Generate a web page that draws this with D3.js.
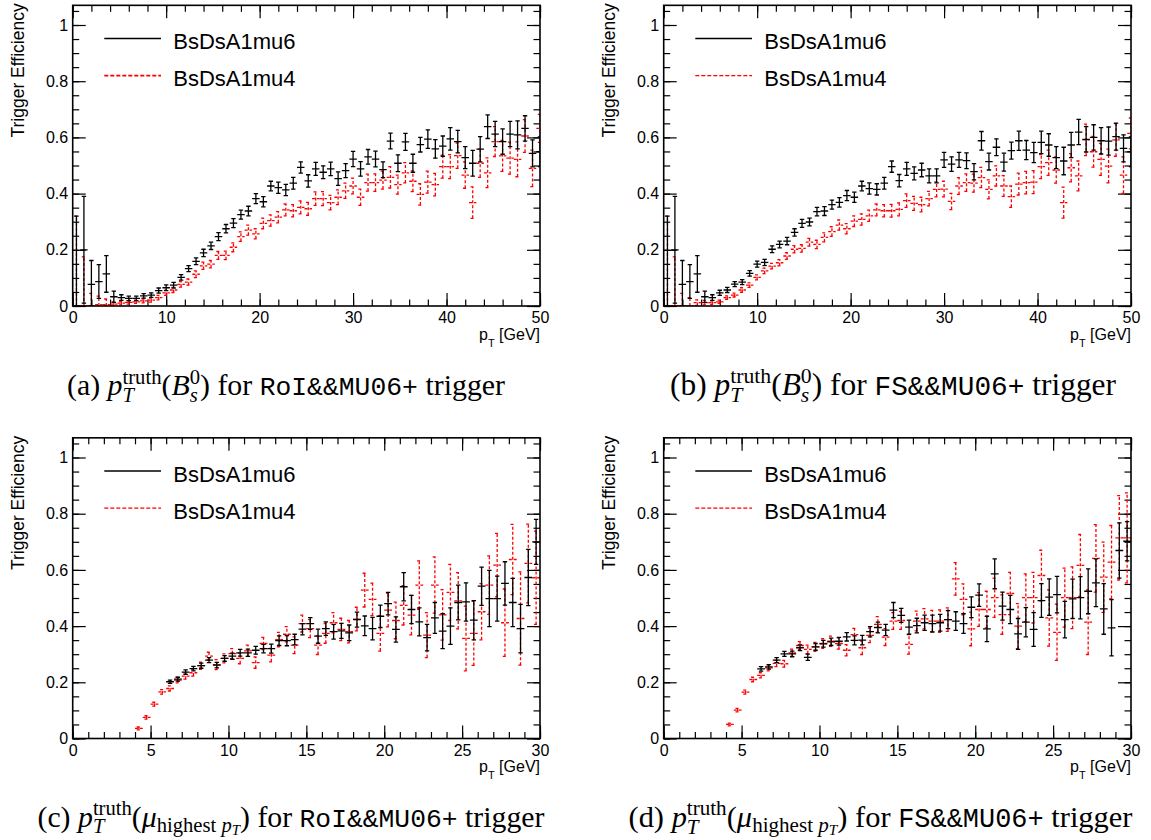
<!DOCTYPE html>
<html lang="en">
<head>
<meta charset="UTF-8">
<title>Trigger Efficiency</title>
<script src="https://cdn.jsdelivr.net/npm/d3@7"></script>
<style>
    body { margin: 0; background: #ffffff; }
    svg { display: block; }
    .tick line { stroke: #000; stroke-width: 1.2px; }
    .tick text { font-family: 'Liberation Sans', Arial, Helvetica, sans-serif; font-size: 16px; fill: #000; }
</style>
</head>
<body>
<script>
    // histogram binning: B_s pT (0-50 GeV, 0.8 GeV bins), muon pT (0-30 GeV, 0.5 GeV bins)
    var binWidthBs = 0.8;
    var binWidthMu = 0.5;
    var yTicks = [0, 0.2, 0.4, 0.6, 0.8, 1];
    var xTicksBs = [0, 10, 20, 30, 40, 50];
    var xTicksMu = [0, 5, 10, 15, 20, 25, 30];
    var seriesNames = ["BsDsA1mu6", "BsDsA1mu4"];

    // (a) pT(Bs) RoI&&MU06+
    var aMu6 = [0,0.2,0.077,0.087,0.114,0.033,0.03,0.027,0.027,0.036,
        0.039,0.055,0.065,0.074,0.102,0.133,0.159,0.189,0.214,0.247,
        0.275,0.295,0.325,0.338,0.382,0.371,0.427,0.421,0.413,0.437,
        0.493,0.445,0.488,0.476,0.488,0.453,0.482,0.523,0.488,0.531,
        0.523,0.485,0.587,0.508,0.584,0.508,0.574,0.594,0.559,0.569,
        0.595,0.585,0.528,0.508,0.558,0.638,0.612,0.585,0.612,0.609,
        0.632,0.543,0.549];
    var aMu6Err = [0.32,0.19,0.085,0.06,0.065,0.02,0.01,0.008,0.008,0.008,
        0.008,0.009,0.01,0.01,0.01,0.011,0.012,0.013,0.013,0.014,
        0.015,0.016,0.016,0.017,0.018,0.018,0.017,0.02,0.02,0.021,
        0.02,0.022,0.023,0.023,0.024,0.024,0.025,0.027,0.026,0.026,
        0.028,0.028,0.028,0.03,0.03,0.032,0.026,0.033,0.033,0.036,
        0.04,0.04,0.039,0.046,0.045,0.042,0.045,0.045,0.045,0.05,
        0.045,0.048,0.053];
    var aMu4 = [0,0,0,0.005,0.005,0.007,0.01,0.013,0.015,0.018,
        0.021,0.03,0.047,0.057,0.077,0.085,0.113,0.143,0.149,0.18,
        0.18,0.209,0.247,0.27,0.257,0.294,0.304,0.316,0.342,0.339,
        0.351,0.346,0.382,0.382,0.368,0.387,0.41,0.427,0.387,0.439,
        0.439,0.448,0.458,0.432,0.474,0.444,0.397,0.441,0.432,0.496,
        0.496,0.535,0.466,0.368,0.508,0.474,0.585,0.534,0.526,0.522,
        0.605,0.49,0.632];
    var aMu4Err = [0.32,0.175,0.045,0.03,0.02,0.008,0.006,0.006,0.006,0.007,
        0.007,0.008,0.009,0.009,0.01,0.011,0.012,0.013,0.013,0.014,
        0.015,0.016,0.017,0.018,0.018,0.019,0.02,0.02,0.021,0.022,
        0.023,0.023,0.024,0.025,0.026,0.026,0.027,0.028,0.029,0.03,
        0.031,0.032,0.038,0.034,0.036,0.037,0.038,0.039,0.04,0.041,
        0.043,0.045,0.047,0.056,0.05,0.053,0.053,0.055,0.057,0.062,
        0.058,0.065,0.05];

    // (b) pT(Bs) FS&&MU06+
    var bMu6 = [0,0.2,0.077,0.087,0.114,0.033,0.03,0.047,0.057,0.078,
        0.085,0.116,0.149,0.155,0.202,0.219,0.231,0.262,0.294,0.299,
        0.336,0.338,0.361,0.369,0.393,0.387,0.427,0.418,0.415,0.437,
        0.496,0.446,0.488,0.472,0.484,0.463,0.463,0.52,0.505,0.52,
        0.517,0.478,0.588,0.514,0.565,0.512,0.553,0.588,0.555,0.546,
        0.582,0.573,0.528,0.516,0.573,0.619,0.593,0.6,0.588,0.587,
        0.603,0.561,0.549];
    var bMu6Err = [0.32,0.19,0.085,0.06,0.065,0.02,0.01,0.009,0.009,0.009,
        0.009,0.01,0.011,0.011,0.012,0.012,0.013,0.013,0.014,0.014,
        0.015,0.016,0.016,0.017,0.018,0.018,0.017,0.02,0.02,0.021,
        0.02,0.022,0.023,0.023,0.024,0.025,0.025,0.027,0.026,0.027,
        0.028,0.029,0.033,0.03,0.03,0.032,0.03,0.034,0.034,0.036,
        0.04,0.04,0.039,0.049,0.045,0.045,0.045,0.045,0.047,0.05,
        0.048,0.048,0.053];
    var bMu4 = [0,0,0,0,0.012,0.012,0.012,0.015,0.03,0.039,
        0.057,0.074,0.102,0.125,0.142,0.154,0.178,0.202,0.205,0.227,
        0.219,0.244,0.265,0.288,0.275,0.302,0.308,0.321,0.342,0.339,
        0.339,0.344,0.375,0.365,0.361,0.382,0.415,0.416,0.372,0.427,
        0.439,0.437,0.457,0.415,0.463,0.427,0.389,0.434,0.439,0.441,
        0.496,0.51,0.484,0.368,0.492,0.463,0.591,0.549,0.522,0.498,
        0.591,0.466,0.614];
    var bMu4Err = [0.32,0.175,0.045,0.03,0.01,0.008,0.006,0.006,0.006,0.007,
        0.008,0.008,0.009,0.01,0.01,0.011,0.012,0.013,0.013,0.014,
        0.015,0.016,0.017,0.018,0.018,0.019,0.02,0.02,0.021,0.022,
        0.023,0.023,0.024,0.025,0.026,0.026,0.027,0.028,0.029,0.03,
        0.031,0.032,0.036,0.034,0.036,0.037,0.038,0.039,0.04,0.041,
        0.043,0.045,0.047,0.055,0.05,0.053,0.056,0.055,0.057,0.06,
        0.058,0.065,0.055];

    // (c) pT(highest-pT muon) RoI&&MU06+ (empty bins are null)
    var cMu6 = [null,null,null,null,null,null,null,null,null,null,null,null,
        0.202,0.211,0.236,0.249,0.259,0.279,0.261,0.285,0.293,0.305,
        0.305,0.314,0.32,0.32,0.348,0.348,0.352,0.389,0.409,0.364,
        0.391,0.38,0.383,0.376,0.423,0.401,0.391,0.435,0.48,0.388,
        0.54,0.459,0.415,0.359,0.429,0.382,0.4,0.484,0.486,0.421,
        0.542,0.498,0.498,0.552,0.484,0.391,0.573,0.7];
    var cMu6Err = [null,null,null,null,null,null,null,null,null,null,null,null,
        0.006,0.007,0.008,0.008,0.009,0.009,0.01,0.01,0.011,0.012,
        0.013,0.014,0.015,0.016,0.017,0.018,0.019,0.02,0.021,0.025,
        0.024,0.026,0.027,0.028,0.027,0.035,0.04,0.04,0.04,0.045,
        0.05,0.05,0.05,0.047,0.055,0.062,0.065,0.062,0.068,0.07,
        0.068,0.1,0.08,0.077,0.086,0.086,0.1,0.08];
    var cMu4 = [null,null,null,null,null,null,null,null,
        0.036,0.075,0.122,0.166,0.178,0.208,0.222,0.234,0.259,0.293,
        0.263,0.285,0.302,0.285,0.312,0.27,0.338,0.297,0.352,0.371,
        0.332,0.409,0.391,0.332,0.374,0.412,0.388,0.38,0.425,0.528,
        0.495,0.374,0.457,0.42,0.474,0.439,0.546,0.368,0.546,0.44,
        0.52,0.49,0.356,0.374,0.451,0.546,0.617,0.412,0.637,0.427,
        0.623,0.572];
    var cMu4Err = [null,null,null,null,null,null,null,null,
        0.005,0.006,0.007,0.008,0.009,0.01,0.011,0.012,0.013,0.014,
        0.018,0.016,0.018,0.019,0.02,0.02,0.022,0.024,0.026,0.027,
        0.03,0.03,0.032,0.033,0.035,0.036,0.04,0.04,0.042,0.06,
        0.058,0.063,0.06,0.065,0.07,0.07,0.086,0.08,0.1,0.09,
        0.1,0.1,0.115,0.114,0.1,0.104,0.113,0.12,0.125,0.166,
        0.14,0.166];

    // (d) pT(highest-pT muon) FS&&MU06+
    var dMu6 = [null,null,null,null,null,null,null,null,null,null,null,null,
        0.248,0.255,0.279,0.301,0.301,0.323,0.289,0.326,0.337,0.344,
        0.346,0.362,0.349,0.35,0.38,0.395,0.386,0.457,0.438,0.396,
        0.402,0.412,0.409,0.412,0.423,0.418,0.409,0.467,0.51,0.39,
        0.586,0.471,0.459,0.372,0.414,0.388,0.491,0.503,0.512,0.423,
        0.497,0.501,0.524,0.554,0.461,0.394,0.669,0.702];
    var dMu6Err = [null,null,null,null,null,null,null,null,null,null,null,null,
        0.008,0.008,0.009,0.009,0.01,0.01,0.011,0.012,0.012,0.013,
        0.014,0.015,0.016,0.017,0.018,0.019,0.02,0.027,0.025,0.025,
        0.026,0.027,0.03,0.03,0.032,0.033,0.035,0.037,0.04,0.045,
        0.053,0.05,0.05,0.055,0.052,0.06,0.06,0.065,0.065,0.065,
        0.07,0.075,0.08,0.085,0.09,0.1,0.098,0.07];
    var dMu4 = [null,null,null,null,null,null,null,null,
        0.05,0.101,0.165,0.21,0.225,0.251,0.267,0.266,0.305,0.331,
        0.317,0.326,0.338,0.346,0.338,0.314,0.37,0.323,0.367,0.406,
        0.361,0.418,0.42,0.335,0.418,0.426,0.418,0.418,0.423,0.568,
        0.495,0.39,0.459,0.459,0.501,0.441,0.516,0.4,0.501,0.501,
        0.58,0.429,0.378,0.501,0.501,0.616,0.414,0.641,0.574,0.628,
        0.714,0.714];
    var dMu4Err = [null,null,null,null,null,null,null,null,
        0.005,0.006,0.007,0.008,0.009,0.01,0.011,0.012,0.013,0.014,
        0.015,0.016,0.017,0.018,0.02,0.02,0.022,0.024,0.026,0.028,
        0.03,0.03,0.032,0.035,0.035,0.036,0.038,0.04,0.042,0.058,
        0.055,0.06,0.06,0.065,0.07,0.07,0.075,0.08,0.085,0.09,
        0.09,0.1,0.1,0.105,0.11,0.11,0.115,0.12,0.125,0.13,
        0.15,0.16];

    var SANS = "'Liberation Sans', Arial, Helvetica, sans-serif";
    var SERIF = "'Liberation Serif', 'DejaVu Serif', 'Times New Roman', serif";
    var MONO = "'Liberation Mono', 'DejaVu Sans Mono', monospace";
    var YMAX = 1.07;

    var panels = [
        {ox: 0, oy: 0, xmax: 50, xTicks: xTicksBs, xMinor: 2, binW: binWidthBs,
            mu6: aMu6, mu6Err: aMu6Err, mu4: aMu4, mu4Err: aMu4Err, letter: "a", trig: "RoI&&MU06+",
            capX: 286, capY: 395, capW: 438, mu: false, legDash: 1.8},
        {ox: 591, oy: 0, xmax: 50, xTicks: xTicksBs, xMinor: 2, binW: binWidthBs,
            mu6: bMu6, mu6Err: bMu6Err, mu4: bMu4, mu4Err: bMu4Err, letter: "b", trig: "FS&&MU06+",
            capX: 893, capY: 395, capW: 446, mu: false, legDash: 1.2},
        {ox: 0, oy: 432.5, xmax: 30, xTicks: xTicksMu, xMinor: 1, binW: binWidthMu,
            mu6: cMu6, mu6Err: cMu6Err, mu4: cMu4, mu4Err: cMu4Err, letter: "c", trig: "RoI&&MU06+",
            capX: 291, capY: 826.5, capW: 507, mu: true, legDash: 1.2},
        {ox: 591, oy: 432.5, xmax: 30, xTicks: xTicksMu, xMinor: 1, binW: binWidthMu,
            mu6: dMu6, mu6Err: dMu6Err, mu4: dMu4, mu4Err: dMu4Err, letter: "d", trig: "FS&&MU06+",
            capX: 880.5, capY: 826.5, capW: 504, mu: true, legDash: 1.2}
    ];

    var svg = d3.select("body").append("svg")
        .attr("width", 1151)
        .attr("height", 840);

    // one <text> with tspans placed at measured positions; sub/superscripts may stack.
    // if fitW is given the whole line is scaled to that width.
    function richText(parent, pieces, ax, by, align, fitW) {
        var tmp = parent.append("g").attr("visibility", "hidden");
        var widths = pieces.map(function(p) {
            var t = tmp.append("text")
                .style("font-family", p.font)
                .style("font-size", p.size + "px")
                .style("font-style", p.italic ? "italic" : "normal")
                .style("white-space", "pre")
                .text(p.t);
            return t.node().getComputedTextLength();
        });
        tmp.remove();

        var x = 0, lastStart = 0, starts = [];
        pieces.forEach(function(p, i) {
            var start = p.stack ? lastStart : x;
            starts.push(start);
            if (p.stack) {
                x = Math.max(x, start + widths[i]);
            } else {
                lastStart = start;
                x = start + widths[i];
            }
        });
        var s = fitW ? fitW / x : 1;
        var total = x * s;
        var x0 = align === "middle" ? ax - total / 2 : (align === "end" ? ax - total : ax);

        var text = parent.append("text")
            .style("white-space", "pre")
            .attr("fill", "#000");
        pieces.forEach(function(p, i) {
            text.append("tspan")
                .attr("x", x0 + starts[i] * s)
                .attr("y", by + (p.dy || 0) * s)
                .style("font-family", p.font)
                .style("font-size", (p.size * s) + "px")
                .style("font-style", p.italic ? "italic" : "normal")
                .text(p.t);
        });
        return text;
    }

    function drawPoints(g, vals, errs, binW, x, y, color, dashed) {
        var pts = [];
        vals.forEach(function(v, i) {
            if (v === null) return;
            pts.push({c: binW * (i + 0.5), v: v, e: errs[i]});
        });
        var capW = 2.2;
        var pg = g.selectAll(null).data(pts).join("g")
            .attr("stroke", color)
            .attr("stroke-width", 1.3)
            .attr("stroke-dasharray", dashed ? "3,2" : null);
        pg.append("line")
            .attr("x1", function(d) { return x(d.c - binW / 2); })
            .attr("x2", function(d) { return x(d.c + binW / 2); })
            .attr("y1", function(d) { return y(d.v); })
            .attr("y2", function(d) { return y(d.v); });
        pg.append("line")
            .attr("x1", function(d) { return x(d.c); })
            .attr("x2", function(d) { return x(d.c); })
            .attr("y1", function(d) { return y(Math.max(0, d.v - d.e)); })
            .attr("y2", function(d) { return y(Math.min(YMAX, d.v + d.e)); });
        pg.append("line")
            .attr("stroke-dasharray", null)
            .attr("x1", function(d) { return x(d.c) - capW; })
            .attr("x2", function(d) { return x(d.c) + capW; })
            .attr("y1", function(d) { return y(Math.min(YMAX, d.v + d.e)); })
            .attr("y2", function(d) { return y(Math.min(YMAX, d.v + d.e)); });
        pg.append("line")
            .attr("stroke-dasharray", null)
            .attr("x1", function(d) { return x(d.c) - capW; })
            .attr("x2", function(d) { return x(d.c) + capW; })
            .attr("y1", function(d) { return y(Math.max(0, d.v - d.e)); })
            .attr("y2", function(d) { return y(Math.max(0, d.v - d.e)); });
    }

    panels.forEach(function(p, pi) {
        var left = 72.7 + p.ox, right = 540 + p.ox;
        var bottom = 306 + p.oy, top = bottom - 281 * YMAX;

        var x = d3.scaleLinear().domain([0, p.xmax]).range([left, right]);
        var y = d3.scaleLinear().domain([0, YMAX]).range([bottom, top]);

        var g = svg.append("g");

        var clipId = "clip" + pi;
        svg.append("clipPath").attr("id", clipId)
            .append("rect")
            .attr("x", left).attr("y", top)
            .attr("width", right - left).attr("height", bottom - top);

        var minorX = d3.range(0, p.xmax + 0.001, p.xMinor);
        var minorY = d3.range(0, 1.0501, 0.05);

        // minor ticks
        g.append("g").attr("transform", "translate(0," + bottom + ")")
            .call(d3.axisBottom(x).tickValues(minorX).tickSizeInner(-6.5).tickSizeOuter(0).tickFormat(""));
        g.append("g").attr("transform", "translate(0," + top + ")")
            .call(d3.axisTop(x).tickValues(minorX).tickSizeInner(-6.5).tickSizeOuter(0).tickFormat(""));
        g.append("g").attr("transform", "translate(" + left + ",0)")
            .call(d3.axisLeft(y).tickValues(minorY).tickSizeInner(-6.5).tickSizeOuter(0).tickFormat(""));
        g.append("g").attr("transform", "translate(" + right + ",0)")
            .call(d3.axisRight(y).tickValues(minorY).tickSizeInner(-6.5).tickSizeOuter(0).tickFormat(""));

        // major ticks + labels
        g.append("g").attr("transform", "translate(0," + bottom + ")")
            .call(d3.axisBottom(x).tickValues(p.xTicks).tickSizeInner(-13).tickSizeOuter(0).tickPadding(6)
                .tickFormat(d3.format("d")));
        g.append("g").attr("transform", "translate(0," + top + ")")
            .call(d3.axisTop(x).tickValues(p.xTicks).tickSizeInner(-13).tickSizeOuter(0).tickFormat(""));
        g.append("g").attr("transform", "translate(" + left + ",0)")
            .call(d3.axisLeft(y).tickValues(yTicks).tickSizeInner(-13).tickSizeOuter(0).tickPadding(4.5)
                .tickFormat(d3.format("~g")));
        g.append("g").attr("transform", "translate(" + right + ",0)")
            .call(d3.axisRight(y).tickValues(yTicks).tickSizeInner(-13).tickSizeOuter(0).tickFormat(""));

        g.selectAll(".domain").remove();

        // data
        var dg = g.append("g").attr("clip-path", "url(#" + clipId + ")");
        drawPoints(dg, p.mu4, p.mu4Err, p.binW, x, y, "#ff0000", true);
        drawPoints(dg, p.mu6, p.mu6Err, p.binW, x, y, "#000000", false);

        // frame
        g.append("rect")
            .attr("x", left).attr("y", top)
            .attr("width", right - left).attr("height", bottom - top)
            .attr("fill", "none").attr("stroke", "#000").attr("stroke-width", 1.6);

        // y title
        g.append("text")
            .attr("transform", "translate(" + (23.5 + p.ox) + "," + (top - 2) + ") rotate(-90)")
            .attr("text-anchor", "end")
            .style("font-family", SANS)
            .style("font-size", "17.5px")
            .text("Trigger Efficiency");

        // x title
        richText(g, [
            {t: "p", font: SANS, size: 16},
            {t: "T", font: SANS, size: 11, dy: 7},
            {t: " [GeV]", font: SANS, size: 16}
        ], right, bottom + 33.5, "end");

        // legend
        var legY = [y(0.952), y(0.82)];
        var leg = g.append("g");
        leg.append("line")
            .attr("x1", left + 31.6).attr("x2", left + 88.3)
            .attr("y1", legY[0]).attr("y2", legY[0])
            .attr("stroke", "#000").attr("stroke-width", 1.3);
        leg.append("line")
            .attr("x1", left + 31.6).attr("x2", left + 88.3)
            .attr("y1", legY[1]).attr("y2", legY[1])
            .attr("stroke", "#ff0000").attr("stroke-width", p.legDash)
            .attr("stroke-dasharray", "4,2");
        leg.selectAll(null).data(seriesNames).join("text")
            .attr("x", left + 100.6)
            .attr("y", function(d, i) { return legY[i] + 10.8; })
            .style("font-family", SANS)
            .style("font-size", "22px")
            .text(function(d) { return d; });

        // caption
        var pieces = [
            {t: "(" + p.letter + ") ", font: SERIF, size: 26},
            {t: "p", font: SERIF, size: 26, italic: true},
            {t: "truth", font: SERIF, size: 18, dy: -10},
            {t: "T", font: SERIF, size: 18, italic: true, dy: 6, stack: true}
        ];
        if (!p.mu) {
            pieces = pieces.concat([
                {t: "(", font: SERIF, size: 26},
                {t: "B", font: SERIF, size: 26, italic: true},
                {t: "0", font: SERIF, size: 18, dy: -10},
                {t: "s", font: SERIF, size: 18, italic: true, dy: 6, stack: true},
                {t: ") for ", font: SERIF, size: 26}
            ]);
        } else {
            pieces = pieces.concat([
                {t: "(", font: SERIF, size: 26},
                {t: "\u03bc", font: SERIF, size: 26, italic: true},
                {t: "highest ", font: SERIF, size: 18, dy: 5},
                {t: "p", font: SERIF, size: 18, italic: true, dy: 5},
                {t: "T", font: SERIF, size: 13, italic: true, dy: 7.5},
                {t: ") for ", font: SERIF, size: 26}
            ]);
        }
        pieces = pieces.concat([
            {t: p.trig, font: MONO, size: 23},
            {t: " trigger", font: SERIF, size: 26}
        ]);
        richText(svg, pieces, p.capX, p.capY, "middle", p.capW);
    });
</script>
</body>
</html>
